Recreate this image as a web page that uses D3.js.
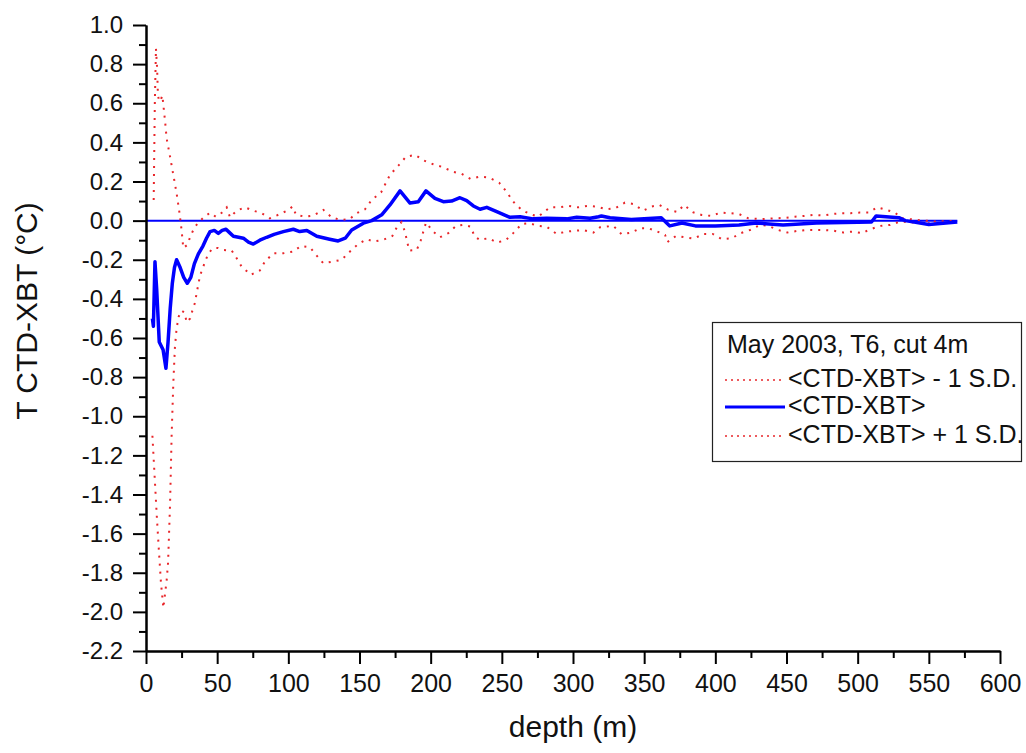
<!DOCTYPE html>
<html lang="en">
<head>
    <meta charset="UTF-8">
    <title>T CTD-XBT vs depth</title>
    <script src="https://d3js.org/d3.v7.min.js"></script>
    <style>
        body { margin: 0; background: #fff; font-family: "Liberation Sans", Arial, sans-serif; }
        .axis path, .axis line { stroke: #000; stroke-width: 2; }
        .axis text { fill: #111; font-family: "Liberation Sans", Arial, sans-serif; }
    </style>
</head>
<body>
    <div id="chart"></div>

    <script>
        // depth (m), T CTD-XBT (°C)
        const minusSD = [
            [4.5,-1.10],[6,-1.30],[7.5,-1.50],[9,-1.68],[10.5,-1.85],[12.2,-1.98],[13,-1.93],[14.5,-1.84],
            [15.5,-1.75],[16.9,-1.45],[18,-1.10],[19.2,-0.83],[20.3,-0.65],[21.5,-0.55],[23,-0.49],[25,-0.46],
            [27,-0.47],[28.6,-0.52],[31,-0.50],[33,-0.45],[34.4,-0.42],[35.6,-0.37],[38,-0.28],[40.7,-0.226],
            [43.8,-0.167],[47.3,-0.14],[50.5,-0.14],[54.3,-0.15],[60.2,-0.153],[63.5,-0.19],[67.2,-0.235],
            [73.6,-0.277],[80,-0.255],[83.5,-0.21],[89.4,-0.167],[96.5,-0.167],[103.5,-0.158],[108.7,-0.13],
            [115.2,-0.136],[119.5,-0.175],[124.6,-0.218],[131,-0.21],[137.5,-0.2],[143.3,-0.158],[149,-0.12],
            [155,-0.095],[160,-0.107],[166.7,-0.098],[173.1,-0.078],[176.5,-0.03],[179.5,-0.008],[181.9,-0.056],
            [184.9,-0.153],[190.2,-0.15],[193,-0.102],[196.7,-0.01],[201.8,-0.056],[206.5,-0.085],[212.4,-0.064],
            [217.8,-0.027],[223,-0.022],[228,-0.031],[231,-0.082],[234.6,-0.099],[240.5,-0.09],[246.8,-0.112],
            [252.9,-0.099],[258,-0.064],[264,-0.017],[269.3,-0.013],[275.6,-0.027],[281.5,-0.031],[288.5,-0.068],
            [295.5,-0.056],[302.6,-0.051],[307.3,-0.048],[314.3,-0.061],[319,-0.034],[328.4,-0.027],[334.2,-0.07],
            [341.2,-0.061],[347.1,-0.039],[352.9,-0.039],[359.3,-0.056],[364.7,-0.073],[366.3,-0.11],[372.4,-0.078],
            [378.7,-0.085],[385,-0.092],[391.6,-0.068],[398.1,-0.068],[404.5,-0.095],[411.5,-0.09],[417.8,-0.064],
            [424.4,-0.048],[431.4,-0.022],[437.2,-0.027],[444.3,-0.048],[450.6,-0.061],[457.2,-0.053],[463.7,-0.048],
            [470,-0.048],[476.6,-0.048],[482.9,-0.051],[489.9,-0.061],[496.5,-0.056],[503.5,-0.064],[507.5,-0.048],
            [515.7,-0.027],[522.7,-0.022],[529.8,-0.005],[540,-0.01],[555,-0.015],[570,-0.01]
        ];

        const meanDiff = [
            [4.5,-0.50],[5.2,-0.54],[6.3,-0.21],[7.5,-0.35],[9.3,-0.62],[12,-0.66],[14,-0.755],[15.5,-0.62],
            [17,-0.45],[18.5,-0.32],[20,-0.24],[21.5,-0.20],[24,-0.24],[26.5,-0.29],[29,-0.32],[31.5,-0.29],
            [34,-0.22],[36.8,-0.17],[40,-0.13],[42.5,-0.09],[45,-0.056],[48,-0.05],[50.8,-0.065],[53.5,-0.05],
            [56.2,-0.044],[58.5,-0.06],[61.4,-0.08],[65,-0.085],[68.4,-0.09],[72,-0.11],[75.4,-0.12],[80,-0.10],
            [84.8,-0.085],[90,-0.07],[96.5,-0.056],[103.5,-0.044],[108,-0.056],[113,-0.05],[120,-0.08],[129,-0.095],
            [135,-0.104],[140,-0.09],[144.5,-0.048],[152.7,-0.013],[158.6,0.0],[165.6,0.03],[171.4,0.08],
            [178.5,0.152],[185.5,0.09],[191.3,0.097],[196.7,0.152],[203,0.114],[208.9,0.097],[214.7,0.10],
            [220.6,0.117],[225.3,0.102],[230,0.075],[234.7,0.058],[239.4,0.068],[246.4,0.046],[255.7,0.017],
            [262.8,0.02],[272,0.009],[281.5,0.012],[295.6,0.009],[302.6,0.017],[312,0.012],[318,0.02],[320,0.024],
            [326,0.015],[341,0.006],[362,0.015],[368,-0.027],[376.6,-0.012],[386,-0.027],[400,-0.027],
            [416.6,-0.022],[428.6,-0.012],[447.6,-0.022],[471,-0.012],[509.7,-0.007],[513,0.024],[529,0.015],
            [533.5,0],[550,-0.02],[570,-0.007]
        ];

        const plusSD = [
            [5.4,0.105],[6.2,0.6],[7,0.88],[7.8,0.78],[8.3,0.66],[9,0.61],[10.5,0.62],[11.5,0.64],[12.5,0.57],
            [13.5,0.50],[14.5,0.42],[16.9,0.327],[19.2,0.234],[21.5,0.14],[23.4,0.046],[25,-0.048],[26.2,-0.14],
            [29,-0.124],[31.6,-0.073],[34.5,-0.03],[37.5,-0.005],[41,0.02],[45,0.04],[49,0.02],[53.2,0.04],
            [56.7,0.068],[59,0.017],[63.7,0.051],[69.6,0.068],[75.4,0.051],[81.3,0.038],[87,0.012],[93,0.03],
            [98.9,0.05],[103,0.072],[105.4,0.03],[111.7,0.02],[117.5,0.026],[124.6,0.055],[130.4,0.017],
            [136.3,0.004],[142.9,0.007],[148,0.038],[153.9,0.058],[158.6,0.106],[165.2,0.145],[171.4,0.234],
            [177.3,0.281],[182.7,0.327],[189,0.336],[195.3,0.307],[201.8,0.288],[208.4,0.274],[215.4,0.25],
            [221.8,0.239],[228,0.213],[234.6,0.225],[241,0.22],[248.1,0.194],[253.3,0.148],[258,0.097],
            [263.9,0.055],[269.7,0.034],[275.6,0.02],[283.9,0.068],[290.4,0.068],[296.8,0.075],[303.8,0.068],
            [310.2,0.075],[316.6,0.072],[323.7,0.058],[329.5,0.063],[336.5,0.092],[342.4,0.085],[349.4,0.051],
            [355.3,0.072],[360.7,0.08],[367,0.055],[373.3,0.044],[378,0.08],[384.1,0.043],[390.4,0.029],
            [397,0.024],[403.8,0.041],[410.3,0.038],[416.9,0.033],[423.2,0.012],[433,0.008],[443,0.012],
            [449.7,0.015],[456,0.02],[462.3,0.024],[469.3,0.029],[475.9,0.026],[482.4,0.034],[489,0.038],
            [495,0.038],[501.6,0.041],[507.7,0.041],[513.7,0.068],[520.3,0.055],[526.2,0.041],[530.9,0.012],
            [540,0.005],[555,-0.005],[570,0.0]
        ];

        const zeroLine = [[0, 0], [570, 0]];

        const xMajor = [0, 50, 100, 150, 200, 250, 300, 350, 400, 450, 500, 550, 600];
        const xMinor = [25, 75, 125, 175, 225, 275, 325, 375, 425, 475, 525, 575];
        const yMajor = [1.0, 0.8, 0.6, 0.4, 0.2, 0.0, -0.2, -0.4, -0.6, -0.8, -1.0, -1.2, -1.4, -1.6, -1.8, -2.0, -2.2];
        const yMinor = [0.9, 0.7, 0.5, 0.3, 0.1, -0.1, -0.3, -0.5, -0.7, -0.9, -1.1, -1.3, -1.5, -1.7, -1.9, -2.1];

        const legendTitle = "May 2003, T6, cut 4m";
        const legendLabels = ["<CTD-XBT> - 1 S.D.", "<CTD-XBT>", "<CTD-XBT> + 1 S.D."];

        const width = 1026, height = 753;
        const plot = {left: 146, right: 1000, top: 25, bottom: 651};

        const svg = d3.select("#chart")
            .append("svg")
            .attr("width", width)
            .attr("height", height);

        const x = d3.scaleLinear().domain([0, 600]).range([plot.left, plot.right]);
        const y = d3.scaleLinear().domain([-2.2, 1.0]).range([plot.bottom, plot.top]);

        const red = "#e8262a", blue = "#0000ff";

        const line = d3.line()
            .x(d => x(d[0]))
            .y(d => y(d[1]));

        // zero reference
        svg.append("path")
            .datum(zeroLine)
            .attr("fill", "none")
            .attr("stroke", blue)
            .attr("stroke-width", 2)
            .attr("d", line);

        // +/- 1 S.D.
        [minusSD, plusSD].forEach(series => {
            svg.append("path")
                .datum(series)
                .attr("fill", "none")
                .attr("stroke", red)
                .attr("stroke-width", 2)
                .attr("stroke-dasharray", "2,6")
                .attr("d", line);
        });

        // mean
        svg.append("path")
            .datum(meanDiff)
            .attr("fill", "none")
            .attr("stroke", blue)
            .attr("stroke-width", 3.5)
            .attr("stroke-linejoin", "round")
            .attr("d", line);

        // axes
        svg.append("g")
            .attr("class", "axis")
            .attr("transform", `translate(0,${plot.bottom})`)
            .call(d3.axisBottom(x).tickValues(xMinor).tickSize(7).tickSizeOuter(0).tickFormat(""));

        svg.append("g")
            .attr("class", "axis")
            .attr("transform", `translate(0,${plot.bottom})`)
            .call(d3.axisBottom(x).tickValues(xMajor).tickSize(13).tickSizeOuter(0).tickPadding(10)
                .tickFormat(d => String(d)))
            .selectAll("text")
            .style("font-size", "25px");

        svg.append("g")
            .attr("class", "axis")
            .attr("transform", `translate(${plot.left},0)`)
            .call(d3.axisLeft(y).tickValues(yMinor).tickSize(7).tickSizeOuter(0).tickFormat(""));

        svg.append("g")
            .attr("class", "axis")
            .attr("transform", `translate(${plot.left},0)`)
            .call(d3.axisLeft(y).tickValues(yMajor).tickSize(13).tickSizeOuter(0).tickPadding(10)
                .tickFormat(d => Math.abs(d) < 1e-9 ? "0.0" : d.toFixed(1)))
            .selectAll("text")
            .style("font-size", "24px");

        // axis titles
        svg.append("text")
            .attr("x", (plot.left + plot.right) / 2)
            .attr("y", 737)
            .attr("text-anchor", "middle")
            .style("font-size", "30px")
            .attr("fill", "#111")
            .text("depth (m)");

        svg.append("text")
            .attr("transform", "translate(37,311) rotate(-90)")
            .attr("text-anchor", "middle")
            .style("font-size", "30px")
            .attr("fill", "#111")
            .text("T CTD-XBT (°C)");

        // legend
        const legend = svg.append("g");
        legend.append("rect")
            .attr("x", 712.5).attr("y", 322.5)
            .attr("width", 309).attr("height", 139)
            .attr("fill", "#fff")
            .attr("stroke", "#222")
            .attr("stroke-width", 1.2);

        legend.append("text")
            .attr("x", 727).attr("y", 353)
            .style("font-size", "25px")
            .attr("fill", "#111")
            .text(legendTitle);

        const rows = [
            {y: 380, color: red, width: 1.5, dash: "2,4"},
            {y: 407, color: blue, width: 3, dash: null},
            {y: 436, color: red, width: 1.5, dash: "2,4"}
        ];
        rows.forEach((r, i) => {
            legend.append("line")
                .attr("x1", 725).attr("x2", 785)
                .attr("y1", r.y).attr("y2", r.y)
                .attr("stroke", r.color)
                .attr("stroke-width", r.width)
                .attr("stroke-dasharray", r.dash);
            legend.append("text")
                .attr("x", 788).attr("y", r.y + 7)
                .style("font-size", "25px")
                .attr("fill", "#111")
                .text(legendLabels[i]);
        });
    </script>
</body>
</html>
